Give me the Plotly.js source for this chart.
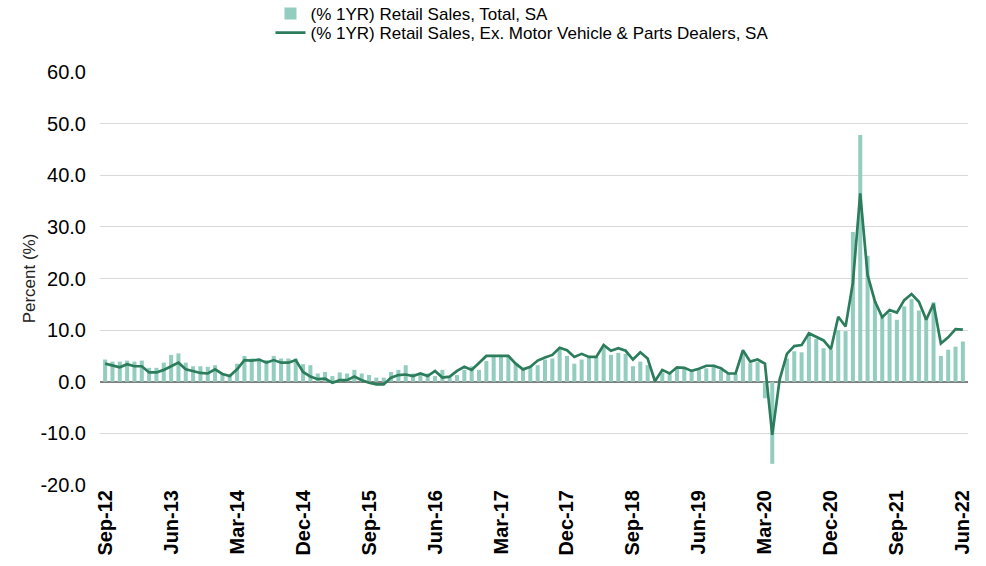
<!DOCTYPE html>
<html>
<head>
<meta charset="utf-8">
<script src="https://cdn.plot.ly/plotly-3.0.1.min.js"></script>
<style>html,body{margin:0;padding:0;background:#fff;}#chart{width:986px;height:566px;}</style>
</head>
<body>
<div id="chart"></div>
<script>
// Monthly categories Sep-12 .. Jun-22
const startYear = 2012, startMonth = 8, nMonths = 118;
const monthAbbr = ['Jan','Feb','Mar','Apr','May','Jun','Jul','Aug','Sep','Oct','Nov','Dec'];
const months = [];
for (let k = 0; k < nMonths; k++) {
  const m = (startMonth + k) % 12;
  const y = startYear + Math.floor((startMonth + k) / 12);
  months.push(monthAbbr[m] + '-' + String(y % 100).padStart(2, '0'));
}
const tickLabels = ['Sep-12','Jun-13','Mar-14','Dec-14','Sep-15','Jun-16','Mar-17','Dec-17','Sep-18','Jun-19','Mar-20','Dec-20','Sep-21','Jun-22'];
const yTickVals = [-20, -10, 0, 10, 20, 30, 40, 50, 60];
const yTickText = ['-20.0', '-10.0', '0.0', '10.0', '20.0', '30.0', '40.0', '50.0', '60.0'];

// (% 1YR) Retail Sales, Total, SA
const retailTotal = [
  4.3, 3.9, 3.9, 4.1, 3.9, 4.1, 2.7, 2.7, 3.7, 5.2, 5.5, 3.7,
  3.0, 3.0, 2.9, 3.2, 1.6, 1.4, 3.5, 5.0, 4.5, 4.5, 4.2, 5.0,
  4.5, 4.5, 4.5, 3.4, 3.2, 1.6, 1.9, 1.1, 1.8, 1.6, 2.3, 1.6,
  1.3, 0.8, 0.8, 1.9, 2.3, 3.2, 1.6, 1.3, 1.6, 1.1, 2.3, 0.8,
  1.3, 2.3, 3.0, 2.3, 4.0, 5.0, 4.8, 4.8, 3.6, 2.5, 3.0, 3.2,
  4.3, 4.5, 6.3, 5.0, 3.5, 4.3, 4.8, 4.8, 6.6, 5.2, 5.6, 5.4,
  3.0, 3.9, 3.2, 0.3, 1.8, 1.6, 2.6, 2.6, 2.0, 2.3, 2.6, 3.3,
  2.3, 1.5, 1.5, 5.5, 3.6, 3.8, -3.2, -15.9, 0.3, 4.5, 5.9, 5.7,
  9.4, 8.3, 6.5, 6.2, 10.0, 9.8, 29.0, 47.8, 24.4, 15.6, 12.6, 13.3,
  12.0, 14.6, 16.0, 13.8, 12.6, 15.4, 5.0, 6.2, 6.8, 7.8
];

// (% 1YR) Retail Sales, Ex. Motor Vehicle & Parts Dealers, SA
const retailExAuto = [
  3.5, 3.2, 2.8, 3.4, 3.0, 3.0, 1.8, 1.8, 2.3, 3.0, 3.7, 2.4,
  2.1, 1.7, 1.6, 2.4, 1.5, 1.1, 2.4, 4.2, 4.1, 4.3, 3.7, 4.2,
  3.7, 3.7, 4.2, 1.9, 1.0, 0.5, 0.6, -0.2, 0.3, 0.3, 1.0, 0.3,
  -0.2, -0.5, -0.5, 0.8, 1.3, 1.4, 1.1, 1.6, 1.1, 2.1, 0.8, 1.0,
  2.1, 2.9, 2.3, 3.7, 5.0, 5.0, 5.0, 5.0, 3.5, 2.4, 2.9, 4.1,
  4.7, 5.2, 6.6, 6.1, 4.8, 5.4, 4.8, 4.8, 7.1, 6.0, 6.5, 6.0,
  4.3, 5.7, 4.5, 0.1, 2.3, 1.6, 2.8, 2.7, 2.1, 2.5, 3.1, 3.1,
  2.6, 1.6, 1.6, 6.1, 3.9, 4.3, 3.5, -10.3, 0.4, 5.4, 6.9, 7.1,
  9.4, 8.7, 8.0, 6.3, 12.6, 10.7, 19.2, 36.5, 20.7, 15.6, 12.5, 13.9,
  13.4, 15.8, 17.0, 15.5, 12.0, 15.1, 7.4, 8.6, 10.2, 10.1
];

const seriesNames = ['(% 1YR) Retail Sales, Total, SA', '(% 1YR) Retail Sales, Ex. Motor Vehicle & Parts Dealers, SA'];

const traces = [
  {
    type: 'bar', x: months, y: retailTotal, name: seriesNames[0], legend: 'legend',
    marker: {color: '#93cdbf', line: {width: 0}}, width: 0.55
  },
  {
    type: 'scatter', mode: 'lines', x: months, y: retailExAuto, name: seriesNames[1], legend: 'legend2',
    line: {color: '#2b7d5c', width: 2.7}
  }
];

const legendCommon = {
  xref: 'paper', yref: 'container', xanchor: 'left', yanchor: 'middle',
  orientation: 'v', bgcolor: 'rgba(0,0,0,0)', borderwidth: 0,
  font: {size: 17, color: '#000'}, itemwidth: 30
};

const layout = {
  width: 986, height: 566,
  margin: {l: 100, r: 18, t: 72, b: 81, autoexpand: false},
  paper_bgcolor: '#ffffff', plot_bgcolor: '#ffffff',
  font: {family: 'Liberation Sans, Arial, sans-serif', color: '#000000'},
  showlegend: true,
  legend: Object.assign({}, legendCommon, {x: 0.1964, y: 1 - 14 / 566}),
  legend2: Object.assign({}, legendCommon, {x: 0.1964, y: 1 - 33 / 566}),
  xaxis: {
    type: 'category',
    range: [-0.7, 117.7],
    tickmode: 'array', tickvals: tickLabels, ticktext: tickLabels.map(t => '<b>' + t + '</b>'),
    tickangle: -90,
    tickfont: {size: 20, color: '#000'},
    showgrid: false, zeroline: false, showline: false, ticks: '',
    automargin: false
  },
  yaxis: {
    range: [-20, 60],
    tickmode: 'array', tickvals: yTickVals, ticktext: yTickText,
    tickfont: {size: 20, color: '#000'},
    ticklabelstandoff: 13,
    showgrid: true, gridcolor: '#d9d9d9', gridwidth: 1,
    zeroline: true, zerolinecolor: '#7f7f7f', zerolinewidth: 2,
    showline: false, ticks: '',
    automargin: true,
    title: {text: 'Percent (%)', font: {size: 17, color: '#222'}, standoff: 0}
  },
  bargap: 0.45
};

Plotly.newPlot('chart', traces, layout, {displayModeBar: false, staticPlot: true});
</script>
</body>
</html>
